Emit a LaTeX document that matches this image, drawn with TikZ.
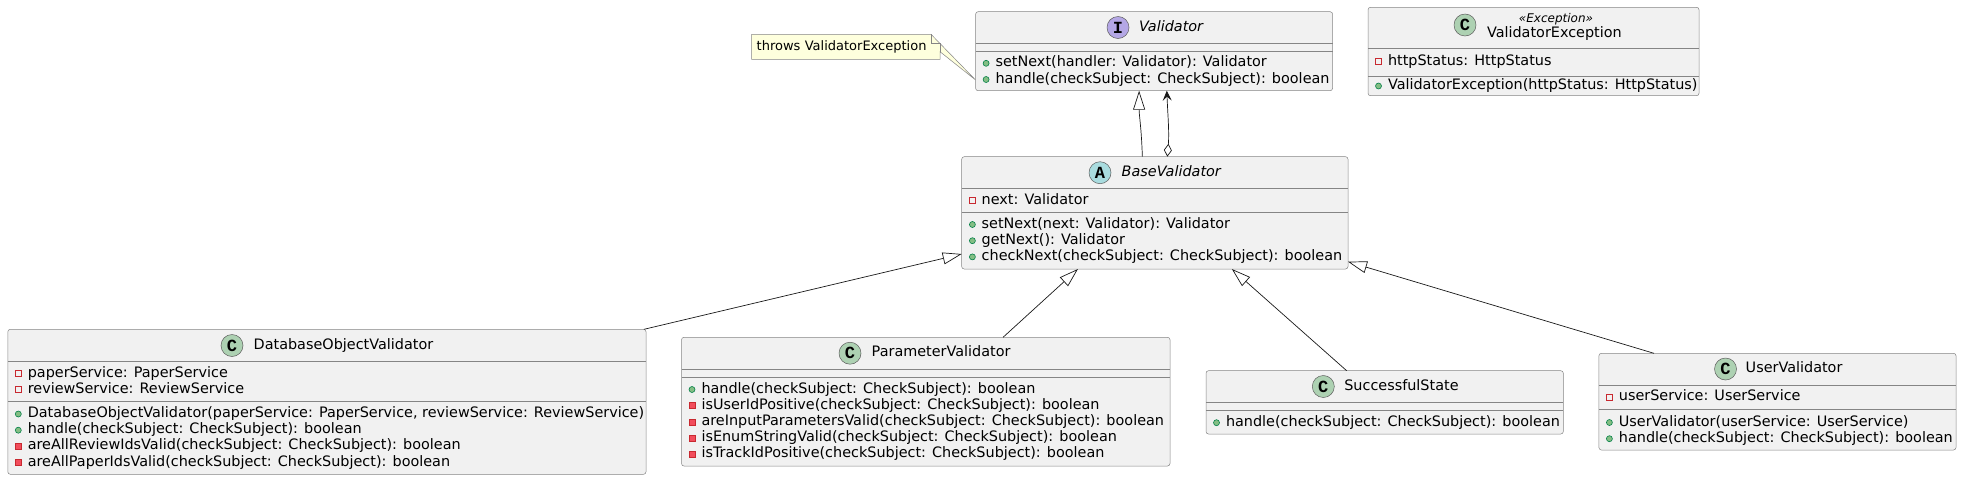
\documentclass[tikz,border=0pt]{standalone}
\usepackage{fontspec}
\setmainfont{DejaVu Sans}[ItalicFont={DejaVu Sans Oblique},BoldFont={DejaVu Sans Bold}]
\newfontfamily\spotfont{Liberation Mono}
\usetikzlibrary{arrows.meta,calc,backgrounds}
\definecolor{boxfill}{HTML}{F1F1F1}
\definecolor{boxline}{HTML}{858585}
\definecolor{arrowline}{HTML}{181818}
\definecolor{notefill}{HTML}{FEFFDD}
\definecolor{spotC}{HTML}{ADD1B2}
\definecolor{spotI}{HTML}{B4A7E5}
\definecolor{spotA}{HTML}{A9DCDF}
\definecolor{privline}{HTML}{C82930}
\definecolor{privfill}{HTML}{F24D5C}
\definecolor{publine}{HTML}{038048}
\definecolor{pubfill}{HTML}{84BE84}
\begin{document}
\begin{tikzpicture}[x=1pt,y=-1pt,
  every node/.style={inner sep=0pt, outer sep=0pt, font=\fontsize{14.4}{16}\selectfont},
  classbox/.style={draw=boxline, fill=boxfill, line width=0.5pt, rounded corners=2.5pt, anchor=north west},
  sepline/.style={draw=boxline, line width=0.5pt},
  member/.style={anchor=west, text height=10.4pt, text depth=3.4pt},
  spot/.style={circle, draw=boxline!70!black, line width=0.5pt, minimum size=22pt, font=\spotfont\bfseries\fontsize{17}{17}\selectfont},
  privfield/.style={draw=privline, line width=0.8pt},
  privmeth/.style={draw=privline, fill=privfill, line width=0.8pt},
  pubmeth/.style={draw=publine, fill=pubfill, line width=0.6pt},
  isa/.style={draw=arrowline, line width=0.7pt, -{Triangle[length=19pt, width=12pt, fill=white]}},
  aggr/.style={draw=arrowline, line width=0.7pt, {Diamond[length=13pt, width=8pt, fill=white]}-{Stealth[length=10pt, width=9pt, inset=4pt]}},
  notebox/.style={anchor=west, align=left, text width=178.3pt, inner xsep=5pt, minimum height=25pt, font=\fontsize{13}{15}\selectfont}]

\useasboundingbox (0,0) rectangle (1962,480);

\node[classbox, minimum width=357pt, minimum height=79pt] (validator) at (975.6,11.7) {};
\node[classbox, minimum width=331pt, minimum height=88.4pt] (vexc) at (1368,7.3) {};
\node[classbox, minimum width=386.3pt, minimum height=112.3pt] (base) at (961.7,156.7) {};
\node[classbox, minimum width=638.2pt, minimum height=145pt] (dbval) at (7.8,329.3) {};
\node[classbox, minimum width=488.5pt, minimum height=128.7pt] (paramval) at (681.5,337.3) {};
\node[classbox, minimum width=357.3pt, minimum height=63.3pt] (success) at (1206,370.7) {};
\node[classbox, minimum width=357.1pt, minimum height=96.7pt] (userval) at (1598.9,353.3) {};

\draw[sepline] (975.6,43.3) -- (1332.6,43.3);
\draw[sepline] (975.6,51) -- (1332.6,51);
\draw[sepline] (1368,48.3) -- (1699,48.3);
\draw[sepline] (1368,76) -- (1699,76);
\draw[sepline] (961.7,188.7) -- (1348,188.7);
\draw[sepline] (961.7,212.7) -- (1348,212.7);
\draw[sepline] (7.8,361.7) -- (646,361.7);
\draw[sepline] (7.8,401) -- (646,401);
\draw[sepline] (681.5,369) -- (1170,369);
\draw[sepline] (681.5,377.3) -- (1170,377.3);
\draw[sepline] (1206,402.7) -- (1563.3,402.7);
\draw[sepline] (1206,410.7) -- (1563.3,410.7);
\draw[sepline] (1598.9,385) -- (1956,385);
\draw[sepline] (1598.9,409) -- (1956,409);

\node[spot, fill=spotI] (validator-spot) at (1118,27.5) {I};
\node[member, font=\itshape\fontsize{14.4}{16}\selectfont] (validator-name) at (1139,27.5) {Validator};
\node[spot, fill=spotC] (vexc-spot) at (1465,25) {C};
\node[font=\itshape\fontsize{12}{14}\selectfont] (vexc-stereo) at (1556,19) {«Exception»};
\node[member] (vexc-name) at (1487,34.3) {ValidatorException};
\node[spot, fill=spotA] (base-spot) at (1100,172.7) {A};
\node[member, font=\itshape\fontsize{14.4}{16}\selectfont] (base-name) at (1121.7,172.7) {BaseValidator};
\node[spot, fill=spotC] (dbval-spot) at (232,345.5) {C};
\node[member] (dbval-name) at (253.7,345.5) {DatabaseObjectValidator};
\node[spot, fill=spotC] (paramval-spot) at (850,353.2) {C};
\node[member] (paramval-name) at (871.7,353.2) {ParameterValidator};
\node[spot, fill=spotC] (success-spot) at (1323.3,386.5) {C};
\node[member] (success-name) at (1344.3,386.5) {SuccessfulState};
\node[spot, fill=spotC] (userval-spot) at (1725.5,369) {C};
\node[member] (userval-name) at (1745.7,369) {UserValidator};

\draw[pubmeth] (986.1,63.3) circle (3pt);
\draw[pubmeth] (986.1,79.5) circle (3pt);
\node[member] (validator-m1) at (995.6,63.3) {setNext(handler: Validator): Validator};
\node[member] (validator-m2) at (995.6,79.5) {handle(checkSubject: CheckSubject): boolean};

\draw[privfield] (1375.5,58.5) rectangle +(6,6);
\draw[pubmeth] (1378.5,86) circle (3pt);
\node[member] (vexc-f1) at (1388,61.5) {httpStatus: HttpStatus};
\node[member] (vexc-m1) at (1388,86) {ValidatorException(httpStatus: HttpStatus)};

\draw[privfield] (969.4,197.5) rectangle +(6,6);
\draw[pubmeth] (972.4,224.5) circle (3pt);
\draw[pubmeth] (972.4,240.7) circle (3pt);
\draw[pubmeth] (972.4,256.9) circle (3pt);
\node[member] (base-f1) at (981.7,200.5) {next: Validator};
\node[member] (base-m1) at (981.7,224.5) {setNext(next: Validator): Validator};
\node[member] (base-m2) at (981.7,240.7) {getNext(): Validator};
\node[member] (base-m3) at (981.7,256.9) {checkNext(checkSubject: CheckSubject): boolean};

\draw[privfield] (15.3,370.5) rectangle +(6,6);
\draw[privfield] (15.3,386.7) rectangle +(6,6);
\draw[pubmeth] (18.3,414) circle (3pt);
\draw[pubmeth] (18.3,430.2) circle (3pt);
\draw[privmeth] (15.3,443.4) rectangle +(6,6);
\draw[privmeth] (15.3,459.6) rectangle +(6,6);
\node[member] (dbval-f1) at (27.8,373.5) {paperService: PaperService};
\node[member] (dbval-f2) at (27.8,389.7) {reviewService: ReviewService};
\node[member] (dbval-m1) at (27.8,414) {DatabaseObjectValidator(paperService: PaperService, reviewService: ReviewService)};
\node[member] (dbval-m2) at (27.8,430.2) {handle(checkSubject: CheckSubject): boolean};
\node[member] (dbval-m3) at (27.8,446.4) {areAllReviewIdsValid(checkSubject: CheckSubject): boolean};
\node[member] (dbval-m4) at (27.8,462.6) {areAllPaperIdsValid(checkSubject: CheckSubject): boolean};

\draw[pubmeth] (692,389.5) circle (3pt);
\draw[privmeth] (689,402.7) rectangle +(6,6);
\draw[privmeth] (689,418.9) rectangle +(6,6);
\draw[privmeth] (689,435.1) rectangle +(6,6);
\draw[privmeth] (689,451.3) rectangle +(6,6);
\node[member] (paramval-m1) at (701.5,389.5) {handle(checkSubject: CheckSubject): boolean};
\node[member] (paramval-m2) at (701.5,405.7) {isUserIdPositive(checkSubject: CheckSubject): boolean};
\node[member] (paramval-m3) at (701.5,421.9) {areInputParametersValid(checkSubject: CheckSubject): boolean};
\node[member] (paramval-m4) at (701.5,438.1) {isEnumStringValid(checkSubject: CheckSubject): boolean};
\node[member] (paramval-m5) at (701.5,454.3) {isTrackIdPositive(checkSubject: CheckSubject): boolean};

\draw[pubmeth] (1216.5,422.7) circle (3pt);
\node[member] (success-m1) at (1226,422.7) {handle(checkSubject: CheckSubject): boolean};

\draw[privfield] (1606.4,394) rectangle +(6,6);
\draw[pubmeth] (1609.4,422.5) circle (3pt);
\draw[pubmeth] (1609.4,438.7) circle (3pt);
\node[member] (userval-f1) at (1618.9,397) {userService: UserService};
\node[member] (userval-m1) at (1618.9,422.5) {UserValidator(userService: UserService)};
\node[member] (userval-m2) at (1618.9,438.7) {handle(checkSubject: CheckSubject): boolean};

\node[notebox] (note) at (751.7,46.8) {throws ValidatorException};
\begin{scope}[on background layer]
\filldraw[draw=boxline, fill=notefill, line width=0.5pt] (note.north west) -- ($(note.north east)+(-9,0)$) -- ($(validator.south west)+(0,-10.7)$) -- ($(note.north east)+(0,17.4)$) -- (note.south east) -- (note.south west) -- cycle;
\draw[draw=boxline, line width=0.5pt] ($(note.north east)+(-9,0)$) -- ($(note.north east)+(-9,9)$) -- ($(note.north east)+(0,9)$) -- ($(note.north east)+(0,17.4)$);
\end{scope}

\draw[isa] ($(base.north)+(-12.5,0)$) .. controls +(-1,-30) and +(0,25) .. ($(validator.south)+(-15,0)$);
\draw[aggr] ($(base.north)+(12.5,0)$) .. controls +(2,-25) and +(1,25) .. ($(validator.south)+(12.7,0)$);
\draw[isa] ($(dbval.north east)+(-2,0)$) -- ($(base.south west)+(0,-15)$);
\draw[isa] ($(paramval.north)+(77.3,0)$) -- ($(base.south)+(-76.9,0)$);
\draw[isa] ($(success.north)+(-38,0)$) -- ($(base.south)+(77,0)$);
\draw[isa] ($(userval.north)+(-123.5,0)$) -- ($(base.south east)+(0,-7.3)$);
\end{tikzpicture}
\end{document}
